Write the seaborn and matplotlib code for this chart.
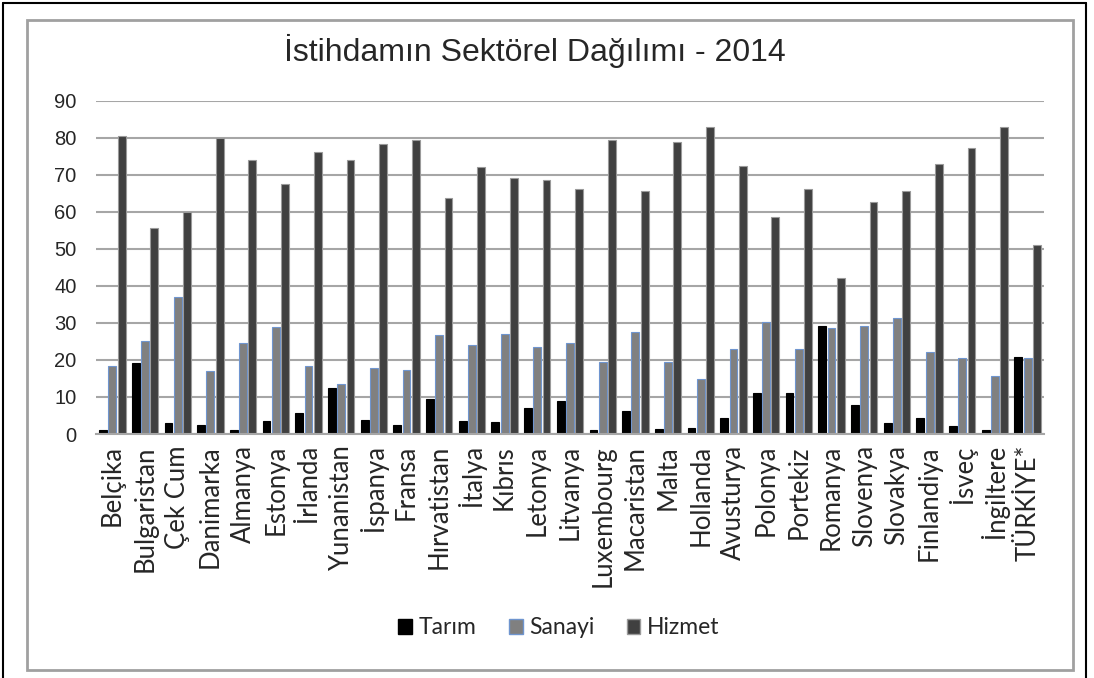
import pandas as pd
import seaborn as sns
import matplotlib.pyplot as plt
from matplotlib.lines import Line2D
from matplotlib.patches import Rectangle, Patch

# ülkeler
ulkeler = ["Belçika", "Bulgaristan", "Çek Cum", "Danimarka", "Almanya", "Estonya",
           "İrlanda", "Yunanistan", "İspanya", "Fransa", "Hırvatistan", "İtalya",
           "Kıbrıs", "Letonya", "Litvanya", "Luxembourg", "Macaristan", "Malta",
           "Hollanda", "Avusturya", "Polonya", "Portekiz", "Romanya", "Slovenya",
           "Slovakya", "Finlandiya", "İsveç", "İngiltere", "TÜRKİYE*"]

tarim = [1.1, 19.1, 3.1, 2.5, 1.1, 3.5, 5.6, 12.3, 3.8, 2.5, 9.4, 3.5, 3.2, 7.0, 9.0,
         1.0, 6.2, 1.4, 1.7, 4.2, 11.1, 11.1, 29.2, 7.9, 3.1, 4.2, 2.2, 1.0, 20.9]
sanayi = [18.4, 25.0, 36.9, 17.1, 24.7, 28.8, 18.4, 13.6, 17.7, 17.4, 26.7, 23.9, 27.1, 23.6, 24.7,
          19.5, 27.5, 19.5, 14.9, 22.9, 30.2, 22.9, 28.5, 29.2, 31.2, 22.2, 20.4, 15.6, 20.4]
hizmet = [80.4, 55.7, 59.9, 80.0, 73.9, 67.4, 76.1, 73.9, 78.2, 79.5, 63.7, 72.2, 69.1, 68.7, 66.1,
          79.4, 65.6, 78.8, 82.9, 72.5, 58.5, 66.1, 42.2, 62.6, 65.6, 72.9, 77.1, 82.9, 51.1]

sektorler = ["Tarım", "Sanayi", "Hizmet"]
renkler = {"Tarım": "#000000", "Sanayi": "#808080", "Hizmet": "#404040"}
kenarlar = {"Tarım": "#000000", "Sanayi": "#6f95cf", "Hizmet": "#9a9a9a"}

df = pd.DataFrame({"Ülke": ulkeler, "Tarım": tarim, "Sanayi": sanayi, "Hizmet": hizmet})
uzun = df.melt(id_vars="Ülke", var_name="Sektör", value_name="Oran")

sns.set_style("white")
fig = plt.figure(figsize=(10.94, 6.78), dpi=100)
ax = fig.add_axes([96 / 1094, 244 / 678, 948 / 1094, 333.3 / 678])

sns.barplot(data=uzun, x="Ülke", y="Oran", hue="Sektör", hue_order=sektorler,
            palette=renkler, width=0.85, ax=ax, legend=False, saturation=1)

# çubukları biraz daralt, aralarında boşluk kalsın
for kap, s in zip(ax.containers, sektorler):
    for p in kap:
        w = p.get_width()
        p.set_x(p.get_x() + (w - 0.24) / 2)
        p.set_width(0.24)
        p.set_edgecolor(kenarlar[s])
        p.set_linewidth(0.8)

ax.set_ylim(0, 90)
ax.set_xlim(-0.5, 28.5)
ax.set_yticks(range(0, 91, 10))
ax.yaxis.grid(True, color="#a6a6a6", linewidth=1.5)
ax.set_axisbelow(True)
for k in ["left", "right", "top"]:
    ax.spines[k].set_visible(False)
ax.spines["bottom"].set_color("#a6a6a6")
ax.spines["bottom"].set_linewidth(1.5)
ax.set_xlabel("")
ax.set_ylabel("")
ax.tick_params(axis="y", length=0, pad=14, labelsize=14.5)
ax.tick_params(axis="x", length=0, pad=8)
for t in ax.get_yticklabels():
    t.set_family(["Liberation Sans", "DejaVu Sans"])
ax.set_xticks(range(len(ulkeler)))
ax.set_xticklabels(ulkeler, rotation=90, fontsize=18.5, family=["Lato", "DejaVu Sans"])

fig.text(0.489, 0.925, "İstihdamın Sektörel Dağılımı - 2014", ha="center", va="center",
         fontsize=23, family=["Liberation Sans Narrow", "Liberation Sans", "DejaVu Sans"])

tutamaklar = [Patch(facecolor=renkler[s], edgecolor=kenarlar[s], label=s) for s in sektorler]
fig.legend(handles=tutamaklar, loc="center", bbox_to_anchor=(0.511, 0.074), ncol=3,
           frameon=False, prop={"family": ["Lato", "DejaVu Sans"], "size": 16.5},
           handlelength=0.6, handleheight=0.6, handletextpad=0.3, columnspacing=1.4)

# çerçeveler
fig.patches.append(Rectangle((27 / 1094, 8 / 678), 1046 / 1094, 650 / 678, transform=fig.transFigure,
                             fill=False, edgecolor="#a0a0a0", linewidth=2))
fig.lines.append(Line2D([3 / 1094, 3 / 1094], [0, 675 / 678], transform=fig.transFigure,
                        color="#000000", linewidth=1.5))
fig.lines.append(Line2D([3 / 1094, 1086 / 1094], [675 / 678, 675 / 678], transform=fig.transFigure,
                        color="#000000", linewidth=1.5))
fig.lines.append(Line2D([1086 / 1094, 1086 / 1094], [0, 675 / 678], transform=fig.transFigure,
                        color="#000000", linewidth=1.5))

fig.savefig("out.png", dpi=100)
